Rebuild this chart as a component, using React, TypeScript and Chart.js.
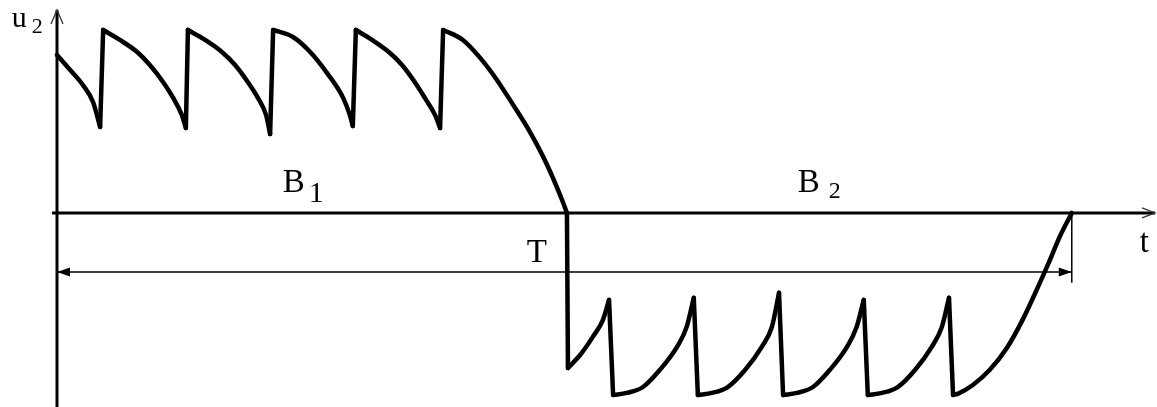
import { useEffect, useRef } from 'react';
import { Chart, registerables } from 'chart.js';

Chart.register(...registerables);

// Output voltage u2 of the converter over one period T = 20 ms.
// B1: positive half-wave with ripple, B2: negative half-wave with ripple.
const timeMs = [
  0, 0.26, 0.51, 0.71, 0.85, 0.91, 1.24, 1.58, 1.83, 2.09, 2.29, 2.46, 2.54,
  2.58, 2.92, 3.25, 3.51, 3.76, 3.96, 4.12, 4.2,
  4.26, 4.65, 4.99, 5.32, 5.64, 5.77, 5.83,
  5.89, 6.21, 6.54, 6.8, 7.05, 7.25, 7.45, 7.55,
  7.61, 8.0, 8.34, 8.67, 8.99, 9.32, 9.66, 9.97, 10.05,
  10.07, 10.31, 10.56, 10.76, 10.88,
  10.96, 11.23, 11.55, 11.88, 12.22, 12.41, 12.55,
  12.63, 12.91, 13.22, 13.56, 13.89, 14.09, 14.23,
  14.31, 14.58, 14.9, 15.23, 15.57, 15.76, 15.9,
  15.98, 16.26, 16.57, 16.91, 17.24, 17.44, 17.58,
  17.66, 17.75, 18.05, 18.38, 18.72, 19.03, 19.37, 19.57, 19.76, 20.0,
];

const u2 = [
  0.854, 0.773, 0.692, 0.6, 0.465, 0.989, 0.935, 0.87, 0.8, 0.708, 0.622, 0.53, 0.459,
  0.989, 0.935, 0.87, 0.8, 0.708, 0.622, 0.53, 0.427,
  0.989, 0.951, 0.87, 0.757, 0.622, 0.53, 0.47,
  0.989, 0.935, 0.87, 0.8, 0.708, 0.622, 0.53, 0.459,
  0.989, 0.935, 0.838, 0.719, 0.584, 0.438, 0.259, 0.059, 0,
  -0.838, -0.768, -0.67, -0.578, -0.47,
  -0.984, -0.973, -0.941, -0.849, -0.724, -0.616, -0.459,
  -0.984, -0.973, -0.941, -0.849, -0.724, -0.616, -0.432,
  -0.984, -0.973, -0.941, -0.849, -0.724, -0.616, -0.47,
  -0.984, -0.973, -0.941, -0.849, -0.724, -0.616, -0.459,
  -0.984, -0.978, -0.93, -0.849, -0.73, -0.578, -0.378, -0.254, -0.13, 0,
];

const periodMs = 20;
const tMax = 21.64;
const uMin = -1.049;
const uMax = 1.097;

const SERIF = '"Liberation Serif", "Times New Roman", serif';

type Pt = { x: number; y: number };

// Split the waveform into smooth arcs and the near-vertical switching edges between them.
function splitWaveform() {
  const pts: Pt[] = timeMs.map((t, i) => ({ x: t, y: u2[i] }));
  const arcs: Pt[][] = [];
  const edges: Pt[][] = [];
  let current: Pt[] = [pts[0]];
  for (let i = 1; i < pts.length; i++) {
    const a = pts[i - 1];
    const b = pts[i];
    const isEdge = b.x - a.x <= 0.1 && Math.abs(b.y - a.y) > 0.3;
    if (isEdge) {
      arcs.push(current);
      edges.push([a, b]);
      current = [b];
    } else {
      current.push(b);
    }
  }
  arcs.push(current);
  return { arcs, edges };
}

type Label = { text: string; sub?: string; t: number; u: number; size: number; subSize?: number; subDx?: number; subDy?: number };

const labels: Label[] = [
  { text: 'u', sub: '2', t: -0.89, u: 1.005, size: 30, subSize: 22, subDx: 5, subDy: 6 },
  { text: 'B', sub: '1', t: 4.45, u: 0.114, size: 33, subSize: 30, subDx: 4, subDy: 10 },
  { text: 'B', sub: '2', t: 14.6, u: 0.114, size: 33, subSize: 24, subDx: 9, subDy: 6 },
  { text: 'T', t: 9.26, u: -0.265, size: 33 },
  { text: 't', t: 21.34, u: -0.211, size: 33 },
];

const diagram = {
  id: 'diagram',
  beforeDatasetsDraw(chart: Chart) {
    const { ctx } = chart;
    const xs = chart.scales.x;
    const ys = chart.scales.y;
    const px = (t: number) => xs.getPixelForValue(t);
    const py = (u: number) => ys.getPixelForValue(u);
    const x0 = px(0);
    const y0 = py(0);

    ctx.save();
    ctx.strokeStyle = '#000';
    ctx.fillStyle = '#000';
    ctx.lineCap = 'butt';

    // u2 axis
    ctx.lineWidth = 3;
    ctx.beginPath();
    ctx.moveTo(x0, chart.height);
    ctx.lineTo(x0, py(uMax));
    ctx.stroke();
    // t axis
    ctx.beginPath();
    ctx.moveTo(px(-0.1), y0);
    ctx.lineTo(px(tMax), y0);
    ctx.stroke();

    // open arrowheads
    ctx.lineWidth = 1.3;
    ctx.strokeStyle = '#333';
    ctx.beginPath();
    ctx.moveTo(x0 - 6, py(uMax) + 14);
    ctx.lineTo(x0, py(uMax));
    ctx.lineTo(x0 + 6, py(uMax) + 14);
    ctx.moveTo(px(tMax) - 13, y0 - 5);
    ctx.lineTo(px(tMax), y0);
    ctx.lineTo(px(tMax) - 13, y0 + 5);
    ctx.stroke();

    // period dimension line T
    const yT = py(-0.319);
    const xa = px(0);
    const xb = px(periodMs);
    ctx.strokeStyle = '#000';
    ctx.lineWidth = 1.5;
    ctx.beginPath();
    ctx.moveTo(xa, yT);
    ctx.lineTo(xb, yT);
    ctx.moveTo(xb, y0);
    ctx.lineTo(xb, py(-0.378));
    ctx.stroke();
    ctx.beginPath();
    ctx.moveTo(xa, yT);
    ctx.lineTo(xa + 13, yT - 4.5);
    ctx.lineTo(xa + 13, yT + 4.5);
    ctx.closePath();
    ctx.moveTo(xb, yT);
    ctx.lineTo(xb - 13, yT - 4.5);
    ctx.lineTo(xb - 13, yT + 4.5);
    ctx.closePath();
    ctx.fill();

    // text labels
    ctx.textAlign = 'left';
    ctx.textBaseline = 'alphabetic';
    for (const l of labels) {
      const lx = px(l.t);
      const ly = py(l.u);
      ctx.font = `${l.size}px ${SERIF}`;
      ctx.fillText(l.text, lx, ly);
      if (l.sub) {
        const w = ctx.measureText(l.text).width;
        ctx.font = `${l.subSize}px ${SERIF}`;
        ctx.fillText(l.sub, lx + w + (l.subDx ?? 0), ly + (l.subDy ?? 0));
      }
    }
    ctx.restore();
  },
};

export default function App() {
  const ref = useRef<HTMLCanvasElement>(null);
  useEffect(() => {
    if (!ref.current) return;
    const { arcs, edges } = splitWaveform();
    const common = {
      borderColor: '#000',
      borderWidth: 4.5,
      pointRadius: 0,
      borderJoinStyle: 'round' as const,
      borderCapStyle: 'round' as const,
      clip: false as const,
    };
    const datasets = [
      ...arcs.map((data, i) => ({ ...common, label: `arc ${i + 1}`, data, cubicInterpolationMode: 'monotone' as const })),
      ...edges.map((data, i) => ({ ...common, label: `edge ${i + 1}`, data, tension: 0 })),
    ];
    const chart = new Chart(ref.current, {
      type: 'line',
      data: { datasets },
      options: {
        responsive: false,
        animation: false,
        events: [],
        layout: { padding: { left: 57, right: 2, top: 10, bottom: 0 } },
        plugins: { legend: { display: false }, tooltip: { enabled: false } },
        scales: {
          x: { type: 'linear', min: 0, max: tMax, display: false },
          y: { type: 'linear', min: uMin, max: uMax, display: false },
        },
      },
      plugins: [diagram],
    });
    return () => chart.destroy();
  }, []);
  return (
    <canvas
      ref={ref}
      width={1157}
      height={407}
      style={{ position: 'absolute', left: 0, top: 0, display: 'block', background: '#fff' }}
    />
  );
}
